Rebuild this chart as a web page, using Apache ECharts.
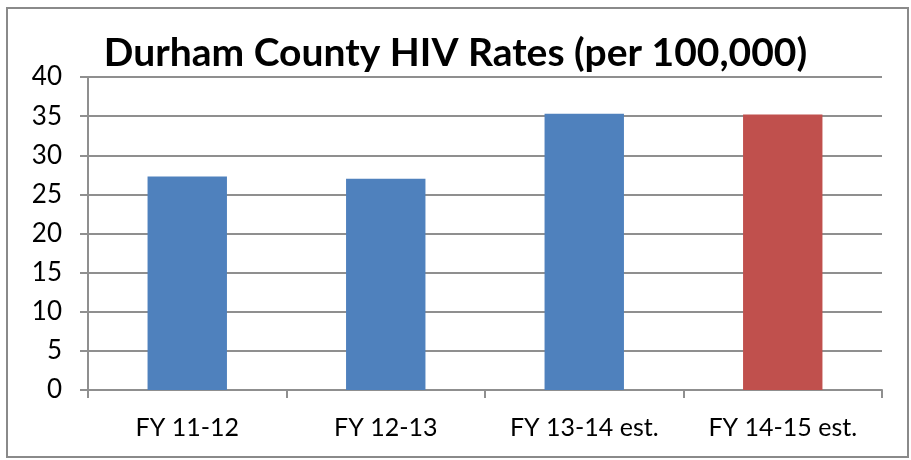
<!DOCTYPE html>
<html>
<head>
<meta charset="utf-8">
<script src="https://cdn.jsdelivr.net/npm/echarts@6/dist/echarts.min.js"></script>
<style>
  html, body { margin: 0; padding: 0; background: #fff; }
  #chart { width: 911px; height: 460px; }
</style>
</head>
<body>
<div id="chart"></div>
<script>
const categories = ['FY 11-12', 'FY 12-13', 'FY 13-14 est.', 'FY 14-15 est.']
const rates = [27.3, 27.0, 35.3, 35.2]
const barColors = ['#4F81BD', '#4F81BD', '#4F81BD', '#C0504D']
const yTicks = [0, 5, 10, 15, 20, 25, 30, 35, 40]

const chart = echarts.init(document.getElementById('chart'))
const gridColor = '#8f8f8f'

const option = {
  animation: false,
  backgroundColor: '#fff',
  title: {
    text: 'Durham County HIV Rates (per 100,000)',
    left: 'center',
    top: 29,
    textStyle: { fontFamily: 'Lato', fontWeight: 'bold', fontSize: 39, color: '#000' }
  },
  graphic: [{
    type: 'rect',
    shape: { x: 7, y: 8, width: 901, height: 449 },
    style: { fill: 'none', stroke: '#8a8a8a', lineWidth: 2 },
    silent: true
  }],
  grid: { left: 88, right: 29, top: 77, bottom: 70 },
  xAxis: {
    type: 'category',
    data: categories,
    axisLine: { lineStyle: { color: gridColor, width: 2 } },
    axisTick: { show: true, length: 8, lineStyle: { color: gridColor, width: 2 } },
    axisLabel: { color: '#000', fontFamily: 'Lato', fontSize: 25, margin: 25, interval: 0, hideOverlap: false }
  },
  yAxis: {
    type: 'value',
    min: yTicks[0],
    max: yTicks[yTicks.length - 1],
    interval: yTicks[1] - yTicks[0],
    axisLine: { show: true, lineStyle: { color: gridColor, width: 2 } },
    axisTick: { show: true, length: 8, lineStyle: { color: gridColor, width: 2 } },
    axisLabel: { color: '#000', fontFamily: 'Lato', fontSize: 26, margin: 26 },
    splitLine: { lineStyle: { color: gridColor, width: 2 } }
  },
  series: [{
    type: 'bar',
    barWidth: '40%',
    data: rates.map((v, i) => ({ value: v, itemStyle: { color: barColors[i] } }))
  }]
}

chart.setOption(option)
</script>
</body>
</html>
